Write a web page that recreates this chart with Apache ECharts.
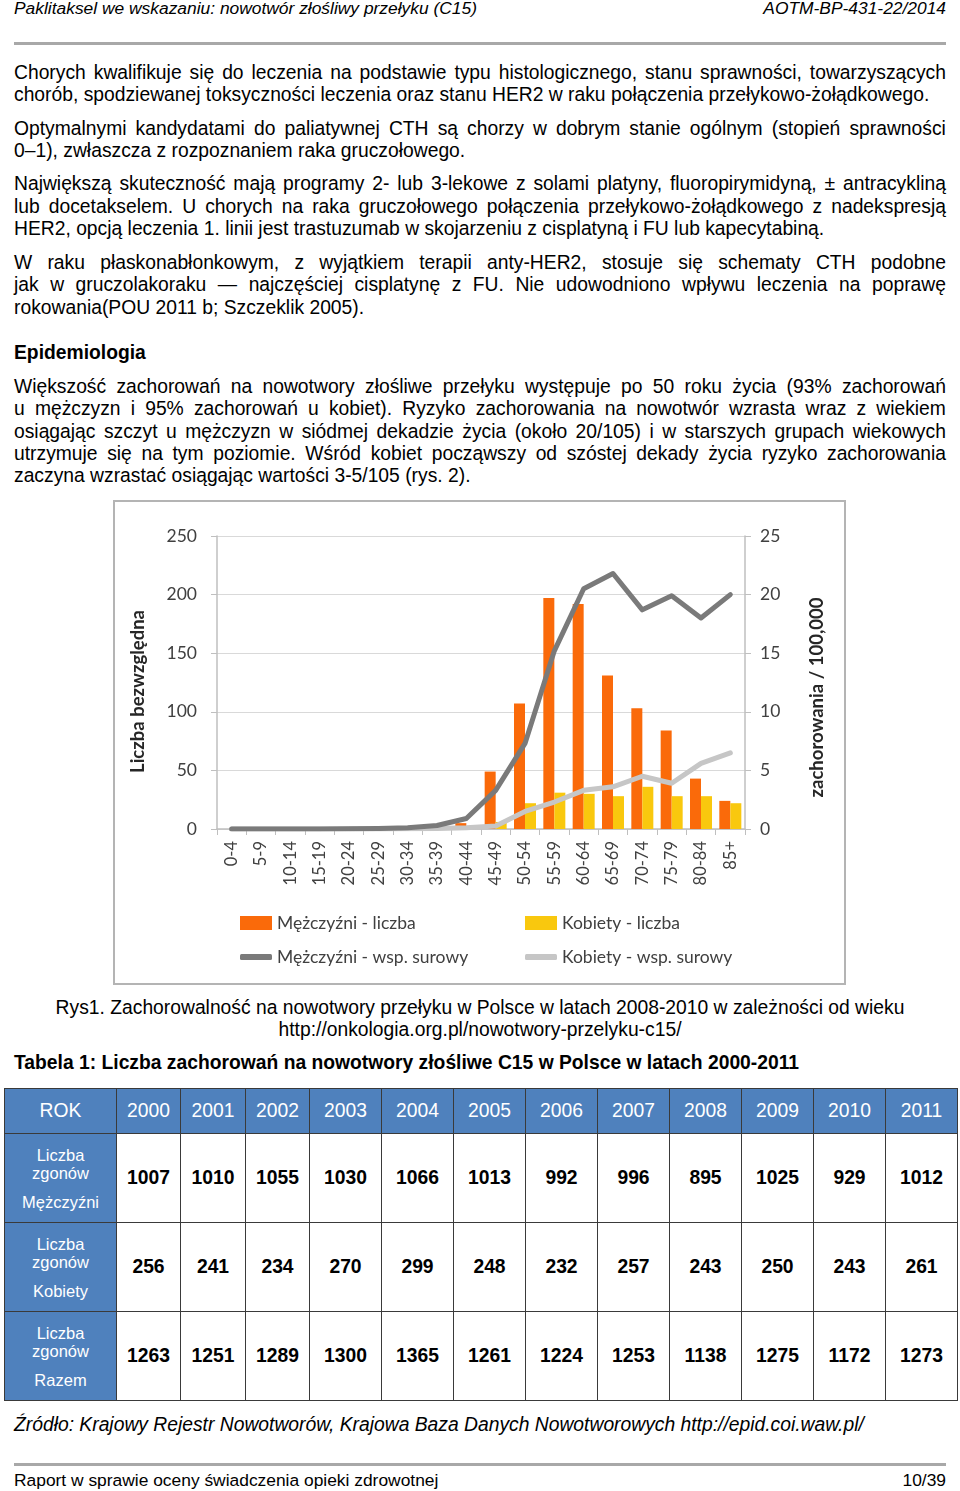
<!DOCTYPE html>
<html>
<head>
<meta charset="utf-8">
<script src="https://cdn.jsdelivr.net/npm/echarts/dist/echarts.min.js"></script>
<style>
  html, body { margin: 0; padding: 0; background: #fff; }
  body { position: relative; width: 960px; height: 1491px; overflow: hidden;
         font-family: "Liberation Sans", Arial, sans-serif; color: #000; }
  .ln { position: absolute; left: 14px; width: 932px; font-size: 19.3px; line-height: 22.4px; white-space: nowrap; }
  .jus { display: flex; justify-content: space-between; }
  .rule { position: absolute; left: 14px; width: 932px; height: 3px; background: #A8A8A8; }
  #chart { position: absolute; left: 113px; top: 500px; width: 733px; height: 485px; }
  #chartBorder { position: absolute; left: 113px; top: 500px; width: 733px; height: 485px;
                 box-sizing: border-box; border: 2px solid #B4B4B4; pointer-events: none; }
  table.t { position: absolute; left: 4px; top: 1088px; border-collapse: collapse; table-layout: fixed;
            font-family: "Liberation Sans", Arial, sans-serif; }
  table.t td { border: 1.5px solid #3A3A3A; text-align: center; vertical-align: middle; padding: 0; }
  table.t tr.h td { background: #4F81BD; color: #fff; font-size: 19.3px; height: 44px; }
  table.t td.rh { background: #4F81BD; color: #fff; font-size: 16.5px; line-height: 18px; }
  table.t td.v { font-weight: bold; font-size: 19.3px; height: 88px; }
</style>
</head>
<body>
<div id="doc"></div>
<div id="chart"></div>
<div id="chartBorder"></div>
<script>
// ---------- chart data ----------
const ageGroups = ['0-4','5-9','10-14','15-19','20-24','25-29','30-34','35-39','40-44','45-49','50-54','55-59','60-64','65-69','70-74','75-79','80-84','85+'];
const menCount   = [0, 0, 0, 0, 0, 0, 1, 2, 5, 49, 107, 197, 192, 131, 103, 84, 43, 24];
const womenCount = [0, 0, 0, 0, 0, 0, 0, 0, 1, 6, 22, 31, 30, 28, 36, 28, 28, 22];
const menRate    = [0, 0, 0, 0, 0.02, 0.05, 0.1, 0.3, 0.9, 3.3, 7.3, 15.2, 20.5, 21.8, 18.7, 19.9, 18.0, 20.0];
const womenRate  = [0, 0, 0, 0, 0, 0, 0.02, 0.05, 0.1, 0.25, 1.5, 2.3, 3.3, 3.6, 4.5, 3.9, 5.6, 6.5];
const leftTicks  = { min: 0, max: 250, interval: 50 };
const rightTicks = { min: 0, max: 25, interval: 5 };
const seriesNames = ['Mężczyźni - liczba', 'Kobiety - liczba', 'Mężczyźni - wsp. surowy', 'Kobiety - wsp. surowy'];

// ---------- table data ----------
const years       = ['2000','2001','2002','2003','2004','2005','2006','2007','2008','2009','2010','2011'];
const deathsMen   = [1007, 1010, 1055, 1030, 1066, 1013, 992, 996, 895, 1025, 929, 1012];
const deathsWomen = [256, 241, 234, 270, 299, 248, 232, 257, 243, 250, 243, 261];
const deathsTotal = [1263, 1251, 1289, 1300, 1365, 1261, 1224, 1253, 1138, 1275, 1172, 1273];
const rowLabels   = ['Mężczyźni', 'Kobiety', 'Razem'];

// ---------- document text ----------
const doc = document.getElementById('doc');
function addLine(text, y, opts) {
  opts = opts || {};
  const d = document.createElement('div');
  d.className = 'ln';
  d.style.top = (y - 11.2) + 'px';
  if (opts.justify) {
    d.classList.add('jus');
    text.split(/\s+/).forEach(w => { const s = document.createElement('span'); s.textContent = w; d.appendChild(s); });
  } else {
    d.textContent = text;
  }
  if (opts.style) Object.assign(d.style, opts.style);
  doc.appendChild(d);
  return d;
}
const J = { justify: true };
addLine('Paklitaksel we wskazaniu: nowotwór złośliwy przełyku (C15)', 8, { style: { fontStyle: 'italic', fontSize: '17.4px' } });
addLine('AOTM-BP-431-22/2014', 8, { style: { fontStyle: 'italic', fontSize: '17.4px', textAlign: 'right' } });
const r1 = document.createElement('div'); r1.className = 'rule'; r1.style.top = '42px'; doc.appendChild(r1);

addLine('Chorych kwalifikuje się do leczenia na podstawie typu histologicznego, stanu sprawności, towarzyszących', 73, J);
addLine('chorób, spodziewanej toksyczności leczenia oraz stanu HER2 w raku połączenia przełykowo-żołądkowego.', 95);
addLine('Optymalnymi kandydatami do paliatywnej CTH są chorzy w dobrym stanie ogólnym (stopień sprawności', 129, J);
addLine('0–1), zwłaszcza z rozpoznaniem raka gruczołowego.', 151);
addLine('Największą skuteczność mają programy 2- lub 3-lekowe z solami platyny, fluoropirymidyną, ± antracykliną', 184, J);
addLine('lub docetakselem. U chorych na raka gruczołowego połączenia przełykowo-żołądkowego z nadekspresją', 207, J);
addLine('HER2, opcją leczenia 1. linii jest trastuzumab w skojarzeniu z cisplatyną i FU lub kapecytabiną.', 229);
addLine('W raku płaskonabłonkowym, z wyjątkiem terapii anty-HER2, stosuje się schematy CTH podobne', 263, J);
addLine('jak w gruczolakoraku — najczęściej cisplatynę z FU. Nie udowodniono wpływu leczenia na poprawę', 285, J);
addLine('rokowania(POU 2011 b; Szczeklik 2005).', 308);
addLine('Epidemiologia', 353, { style: { fontWeight: 'bold' } });
addLine('Większość zachorowań na nowotwory złośliwe przełyku występuje po 50 roku życia (93% zachorowań', 387, J);
addLine('u mężczyzn i 95% zachorowań u kobiet). Ryzyko zachorowania na nowotwór wzrasta wraz z wiekiem', 409, J);
addLine('osiągając szczyt u mężczyzn w siódmej dekadzie życia (około 20/105) i w starszych grupach wiekowych', 432, J);
addLine('utrzymuje się na tym poziomie. Wśród kobiet począwszy od szóstej dekady życia ryzyko zachorowania', 454, J);
addLine('zaczyna wzrastać osiągając wartości 3-5/105 (rys. 2).', 476);

addLine('Rys1. Zachorowalność na nowotwory przełyku w Polsce w latach 2008-2010 w zależności od wieku', 1008, { style: { textAlign: 'center', left: '0px', width: '960px' } });
addLine('http://onkologia.org.pl/nowotwory-przelyku-c15/', 1030, { style: { textAlign: 'center', left: '0px', width: '960px' } });
addLine('Tabela 1: Liczba zachorowań na nowotwory złośliwe C15 w Polsce w latach 2000-2011', 1063, { style: { fontWeight: 'bold' } });
addLine('Źródło: Krajowy Rejestr Nowotworów, Krajowa Baza Danych Nowotworowych http://epid.coi.waw.pl/', 1425, { style: { fontStyle: 'italic' } });
const r2 = document.createElement('div'); r2.className = 'rule'; r2.style.top = '1463px'; doc.appendChild(r2);
addLine('Raport w sprawie oceny świadczenia opieki zdrowotnej', 1480, { style: { fontSize: '17.4px' } });
addLine('10/39', 1480, { style: { fontSize: '17.4px', textAlign: 'right' } });

// ---------- table ----------
(function buildTable() {
  const colW = [112, 64, 65, 64, 72, 72, 72, 72, 72, 72, 72, 72, 72];
  const t = document.createElement('table'); t.className = 't';
  t.style.width = colW.reduce((a, b) => a + b, 0) + 'px';
  const cg = document.createElement('colgroup');
  colW.forEach(w => { const c = document.createElement('col'); c.style.width = w + 'px'; cg.appendChild(c); });
  t.appendChild(cg);
  const hr = document.createElement('tr'); hr.className = 'h';
  ['ROK'].concat(years).forEach(y => { const td = document.createElement('td'); td.textContent = y; hr.appendChild(td); });
  t.appendChild(hr);
  [deathsMen, deathsWomen, deathsTotal].forEach((vals, i) => {
    const tr = document.createElement('tr');
    const th = document.createElement('td'); th.className = 'rh';
    th.innerHTML = '<div>Liczba</div><div>zgonów</div><div style="margin-top:11px">' + rowLabels[i] + '</div>';
    tr.appendChild(th);
    vals.forEach(v => { const td = document.createElement('td'); td.className = 'v'; td.textContent = v; tr.appendChild(td); });
    t.appendChild(tr);
  });
  doc.appendChild(t);
})();

// ---------- chart ----------
const FONT = 'Lato, "Open Sans", sans-serif';
const labelColor = '#404040';
const axisGrey = '#BFBFBF';
const chart = echarts.init(document.getElementById('chart'), null, { renderer: 'canvas' });
function legendAt(name, left, top, icon, h) {
  return {
    data: [{ name: name, icon: icon }], left: left, top: top, itemWidth: 32, itemHeight: h, itemGap: 0,
    padding: 0,
    textStyle: { fontFamily: FONT, fontSize: 17.5, color: labelColor },
    selectedMode: false
  };
}
chart.setOption({
  animation: false,
  textStyle: { fontFamily: FONT },
  grid: { left: 104, right: 101, top: 36, bottom: 156 },
  legend: [
    legendAt(seriesNames[0], 127, 414, 'rect', 14),
    legendAt(seriesNames[1], 412, 414, 'rect', 14),
    legendAt(seriesNames[2], 127, 448, 'roundRect', 6),
    legendAt(seriesNames[3], 412, 448, 'roundRect', 6)
  ],
  xAxis: {
    type: 'category', data: ageGroups,
    axisLine: { lineStyle: { color: axisGrey, width: 1.5 } },
    axisTick: { show: true, length: 6, lineStyle: { color: axisGrey } },
    axisLabel: { rotate: 90, interval: 0, fontSize: 16.5, color: labelColor, margin: 12, fontFamily: FONT }
  },
  yAxis: [
    {
      type: 'value', min: leftTicks.min, max: leftTicks.max, interval: leftTicks.interval,
      name: 'Liczba bezwzględna', nameLocation: 'middle', nameGap: 69, nameRotate: 90,
      nameTextStyle: { fontWeight: 'bold', fontSize: 18.5, color: '#262626', fontFamily: FONT, padding: [0, 18, 0, 0] },
      axisLine: { show: true, lineStyle: { color: axisGrey, width: 1.5 } },
      axisTick: { show: true, length: 6, lineStyle: { color: axisGrey } },
      axisLabel: { fontSize: 17.5, color: labelColor, margin: 20, fontFamily: FONT },
      splitLine: { show: true, lineStyle: { color: '#D9D9D9', width: 1 } }
    },
    {
      type: 'value', position: 'right', min: rightTicks.min, max: rightTicks.max, interval: rightTicks.interval,
      name: 'zachorowania / 100,000', nameLocation: 'middle', nameGap: 63, nameRotate: 90,
      nameTextStyle: { fontWeight: 'bold', fontSize: 18.5, color: '#262626', fontFamily: FONT, padding: [0, 30, 0, 0] },
      axisLine: { show: true, lineStyle: { color: axisGrey, width: 1.5 } },
      axisTick: { show: true, length: 6, lineStyle: { color: axisGrey } },
      axisLabel: { fontSize: 17.5, color: labelColor, margin: 15, fontFamily: FONT },
      splitLine: { show: false }
    }
  ],
  series: [
    { name: seriesNames[0], type: 'bar', data: menCount, barWidth: 11, barGap: '0%', itemStyle: { color: '#FA6A0A' } },
    { name: seriesNames[1], type: 'bar', data: womenCount, barWidth: 11, barGap: '0%', itemStyle: { color: '#F9C80E' } },
    { name: seriesNames[2], type: 'line', yAxisIndex: 1, data: menRate, symbol: 'none', z: 4,
      lineStyle: { width: 5, color: '#7A7A7A', cap: 'round', join: 'round' }, itemStyle: { color: '#7A7A7A' } },
    { name: seriesNames[3], type: 'line', yAxisIndex: 1, data: womenRate, symbol: 'none', z: 3,
      lineStyle: { width: 5, color: '#C6C6C6', cap: 'round', join: 'round' }, itemStyle: { color: '#C6C6C6' } }
  ]
});
</script>
</body>
</html>
